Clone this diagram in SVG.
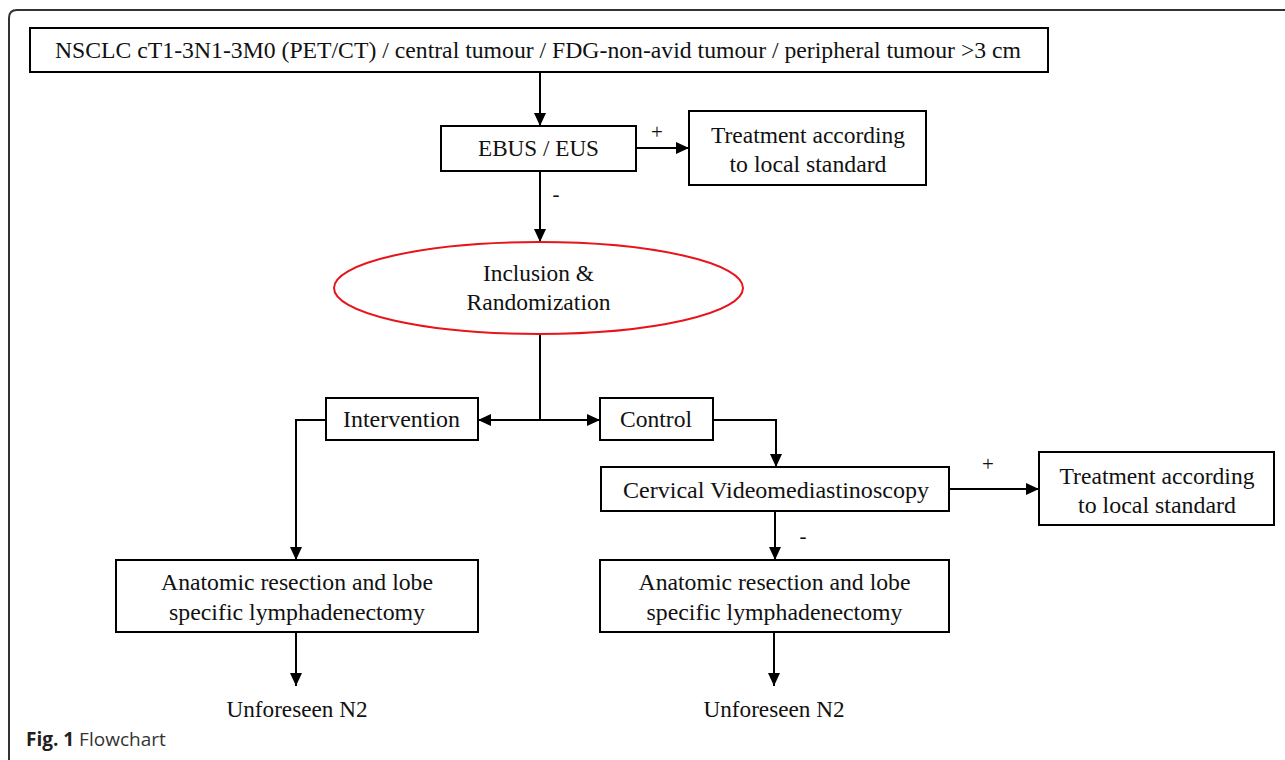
<svg xmlns="http://www.w3.org/2000/svg" width="1285" height="760" viewBox="0 0 1285 760">
<defs>
<style>
.box{fill:#fff;stroke:#000;stroke-width:2}
.t{font-family:"Liberation Serif","Times New Roman",serif;font-size:24px;fill:#111;text-anchor:middle}
.s{font-family:"Liberation Serif","Times New Roman",serif;font-size:21px;fill:#111;text-anchor:middle}
.c{fill:none;stroke:#000;stroke-width:2}
</style>
<marker id="ah" markerUnits="userSpaceOnUse" markerWidth="14" markerHeight="12" refX="13" refY="6" orient="auto">
<path d="M0,0 L13,6 L0,12 z" fill="#000"/>
</marker>
</defs>
<rect width="1285" height="760" fill="#fff"/>
<path d="M9,760 V18 Q9,10 17,10 H1285" fill="none" stroke="#333" stroke-width="2"/>

<g id="connectors">
<path class="c" d="M540,72 V126" marker-end="url(#ah)"/>
<path class="c" d="M636,148 H689" marker-end="url(#ah)"/>
<path class="c" d="M540,171 V242" marker-end="url(#ah)"/>
<path class="c" d="M540,334 V420"/>
<path class="c" d="M540,420 H478" marker-end="url(#ah)"/>
<path class="c" d="M540,420 H600" marker-end="url(#ah)"/>
<path class="c" d="M326,420 H296 V560" marker-end="url(#ah)"/>
<path class="c" d="M713,420 H776 V467" marker-end="url(#ah)"/>
<path class="c" d="M949,489 H1039" marker-end="url(#ah)"/>
<path class="c" d="M775,511 V560" marker-end="url(#ah)"/>
<path class="c" d="M296,632 V686" marker-end="url(#ah)"/>
<path class="c" d="M774,632 V686" marker-end="url(#ah)"/>
<text class="s" x="657" y="139">+</text>
<text class="s" x="556" y="201">-</text>
<text class="s" x="988" y="471">+</text>
<text class="s" x="803" y="543">-</text>
</g>

<g id="n-top">
<rect class="box" x="30" y="28" width="1018" height="44"/>
<text class="t" x="538" y="58" textLength="966" lengthAdjust="spacingAndGlyphs">NSCLC cT1-3N1-3M0 (PET/CT) / central tumour / FDG-non-avid tumour / peripheral tumour &gt;3 cm</text>
</g>

<g id="n-ebus">
<rect class="box" x="441" y="126" width="195" height="45"/>
<text class="t" x="538.5" y="156" textLength="121" lengthAdjust="spacingAndGlyphs">EBUS / EUS</text>
</g>

<g id="n-treat1">
<rect class="box" x="689" y="111" width="237" height="74"/>
<text class="t" x="808" y="143" textLength="194" lengthAdjust="spacingAndGlyphs">Treatment according</text>
<text class="t" x="808" y="172" textLength="157" lengthAdjust="spacingAndGlyphs">to local standard</text>
</g>

<g id="n-incl">
<ellipse cx="538.5" cy="288" rx="204.5" ry="46" fill="#fff" stroke="#e8141c" stroke-width="2"/>
<text class="t" x="538.5" y="281" textLength="111" lengthAdjust="spacingAndGlyphs">Inclusion &amp;</text>
<text class="t" x="538.5" y="310" textLength="144" lengthAdjust="spacingAndGlyphs">Randomization</text>
</g>

<g id="n-interv">
<rect class="box" x="326" y="398" width="152" height="42"/>
<text class="t" x="401.5" y="427" textLength="117" lengthAdjust="spacingAndGlyphs">Intervention</text>
</g>

<g id="n-control">
<rect class="box" x="600" y="398" width="113" height="42"/>
<text class="t" x="656" y="427" textLength="72" lengthAdjust="spacingAndGlyphs">Control</text>
</g>

<g id="n-cvm">
<rect class="box" x="601" y="467" width="348" height="44"/>
<text class="t" x="776" y="498" textLength="306" lengthAdjust="spacingAndGlyphs">Cervical Videomediastinoscopy</text>
</g>

<g id="n-treat2">
<rect class="box" x="1039" y="452" width="235" height="73"/>
<text class="t" x="1157" y="484" textLength="195" lengthAdjust="spacingAndGlyphs">Treatment according</text>
<text class="t" x="1157" y="513" textLength="158" lengthAdjust="spacingAndGlyphs">to local standard</text>
</g>

<g id="n-anat1">
<rect class="box" x="116" y="560" width="362" height="72"/>
<text class="t" x="297" y="590" textLength="272" lengthAdjust="spacingAndGlyphs">Anatomic resection and lobe</text>
<text class="t" x="297" y="620" textLength="256" lengthAdjust="spacingAndGlyphs">specific lymphadenectomy</text>
</g>

<g id="n-anat2">
<rect class="box" x="600" y="560" width="349" height="72"/>
<text class="t" x="774.5" y="590" textLength="272" lengthAdjust="spacingAndGlyphs">Anatomic resection and lobe</text>
<text class="t" x="774.5" y="620" textLength="256" lengthAdjust="spacingAndGlyphs">specific lymphadenectomy</text>
</g>

<g id="n-unf1">
<text class="t" x="297" y="717" textLength="141" lengthAdjust="spacingAndGlyphs">Unforeseen N2</text>
</g>

<g id="n-unf2">
<text class="t" x="774" y="717" textLength="141" lengthAdjust="spacingAndGlyphs">Unforeseen N2</text>
</g>

<g id="caption">
<text x="26" y="746" font-family="'Open Sans','Noto Sans',sans-serif" font-size="19" fill="#231f20"><tspan font-weight="bold">Fig. 1</tspan><tspan font-weight="normal" fill="#333"> Flowchart</tspan></text>
</g>
</svg>
